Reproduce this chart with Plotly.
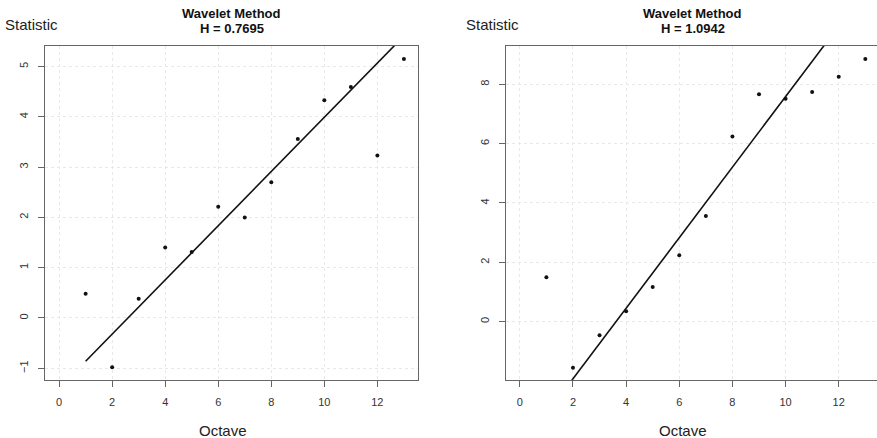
import plotly.graph_objects as go

octave = [1, 2, 3, 4, 5, 6, 7, 8, 9, 10, 11, 12, 13]
stat_left = [0.48, -0.98, 0.38, 1.40, 1.31, 2.21, 2.00, 2.70, 3.56, 4.33, 4.59, 3.23, 5.15]
stat_right = [1.50, -1.55, -0.46, 0.35, 1.17, 2.24, 3.56, 6.24, 7.66, 7.51, 7.74, 8.25, 8.85]
H_left = 0.7695
H_right = 1.0942
icpt_left = -1.40
icpt_right = -4.30
x_ticks = [0, 2, 4, 6, 8, 10, 12]
y_ticks_left = [-1, 0, 1, 2, 3, 4, 5]
y_ticks_right = [0, 2, 4, 6, 8]

W, Hh = 877, 438
fig = go.Figure()

def fitline(icpt, H):
    s = 2 * H - 1
    return [icpt + s * o for o in octave]

fig.add_trace(go.Scatter(x=octave, y=fitline(icpt_left, H_left), mode="lines",
                         line=dict(color="#111", width=1.6), xaxis="x", yaxis="y"))
fig.add_trace(go.Scatter(x=octave, y=stat_left, mode="markers",
                         marker=dict(color="#111", size=4), xaxis="x", yaxis="y"))
fig.add_trace(go.Scatter(x=octave, y=fitline(icpt_right, H_right), mode="lines",
                         line=dict(color="#111", width=1.6), xaxis="x2", yaxis="y2"))
fig.add_trace(go.Scatter(x=octave, y=stat_right, mode="markers",
                         marker=dict(color="#111", size=4), xaxis="x2", yaxis="y2"))

tickfont = dict(family="Liberation Sans Narrow, Liberation Sans, Arial", size=11, color="#333")
common_x = dict(tickvals=x_ticks, ticks="outside", ticklen=6, tickcolor="#666",
                showline=True, linecolor="#666", linewidth=1, mirror=True,
                showgrid=True, gridcolor="#e8e8e8", griddash="dot", gridwidth=1,
                zeroline=False, tickfont=tickfont, ticklabelstandoff=6)
common_y = dict(ticks="outside", ticklen=6, tickcolor="#666",
                showline=True, linecolor="#666", linewidth=1,
                showgrid=True, gridcolor="#e8e8e8", griddash="dot", gridwidth=1,
                zeroline=False, tickfont=tickfont, tickangle=-90, ticklabelstandoff=6)

ydom = [(Hh - 380) / Hh, (Hh - 45.7) / Hh]
fig.update_layout(
    width=W, height=Hh, margin=dict(l=0, r=0, t=0, b=0),
    paper_bgcolor="white", plot_bgcolor="white", showlegend=False,
    xaxis=dict(domain=[45.3 / W, 417.7 / W], range=[-0.52, 13.52], anchor="y", **common_x),
    yaxis=dict(domain=ydom, range=[-1.233, 5.413], tickvals=y_ticks_left, anchor="x",
               mirror=True, **common_y),
    xaxis2=dict(domain=[506 / W, 1.0], range=[-0.52, 13.44], anchor="y2", **common_x),
    yaxis2=dict(domain=ydom, range=[-1.965, 9.30], tickvals=y_ticks_right, anchor="x2",
                mirror=False, **common_y),
)

def ann(text, x, y, size, bold=False, color="#222"):
    fig.add_annotation(text=f"<b>{text}</b>" if bold else text, x=x / W, y=1 - y / Hh,
                       xref="paper", yref="paper", showarrow=False,
                       xanchor="center", yanchor="middle",
                       font=dict(family="Liberation Sans, Arial", size=size, color=color))

ann("Wavelet Method", 231.5, 13.5, 13, True, "#111")
ann(f"H = {H_left}", 231.5, 28.5, 13, True, "#111")
ann("Wavelet Method", 692.5, 13.5, 13, True, "#111")
ann(f"H = {H_right}", 692.5, 28.5, 13, True, "#111")
ann("Statistic", 31.5, 25, 15)
ann("Statistic", 492.5, 25, 15)
ann("Octave", 223.4, 430, 15)
ann("Octave", 682.6, 430, 15)

fig.write_html("out.html", config={"displayModeBar": False},
               post_script="document.body.style.margin='0';document.body.style.overflow='hidden';")
